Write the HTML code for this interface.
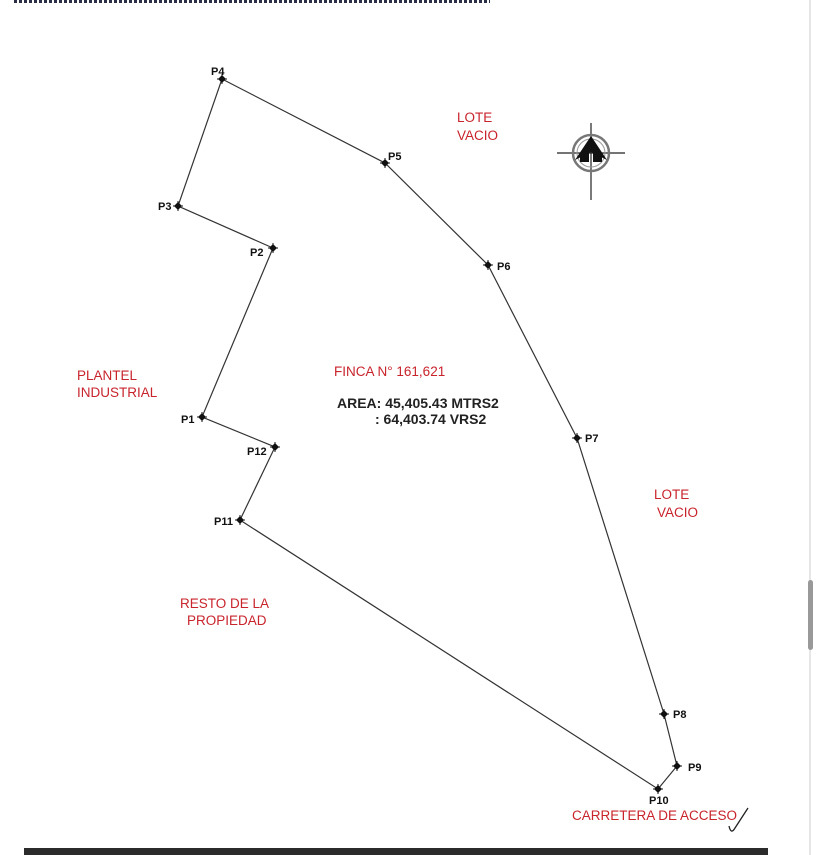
<!DOCTYPE html>
<html><head><meta charset="utf-8"><style>
html,body{margin:0;padding:0;background:#fff;}
svg{display:block;}
text{font-family:"Liberation Sans",sans-serif;}
.r{fill:#c8242c;font-size:13.5px;}
.p{fill:#111;font-size:11px;font-weight:bold;}
</style></head><body>
<svg width="818" height="855" viewBox="0 0 818 855" xmlns="http://www.w3.org/2000/svg">
<defs>
<g id="m"><polygon points="0,-4 4,0 0,4 -4,0" fill="#111"/><line x1="-5" y1="0" x2="5" y2="0" stroke="#111" stroke-width="1"/><line x1="0" y1="-5" x2="0" y2="5" stroke="#111" stroke-width="1"/></g>
</defs>
<rect width="818" height="855" fill="#fff"/>
<line x1="14" y1="1.5" x2="490" y2="1.5" stroke="#2a2f45" stroke-width="3" stroke-dasharray="3,2"/>
<line x1="810" y1="0" x2="810" y2="855" stroke="#ddd" stroke-width="1.5"/>
<rect x="808" y="580" width="5" height="70" rx="2.5" fill="#999"/>
<rect x="24" y="848" width="744" height="7" fill="#2b2b2b"/>
<polygon points="222,79 385,163 488,265 577,438 664,714 677,766 658,789 240,520 275,447 202,417 273,248 178,206" fill="none" stroke="#333" stroke-width="1.2"/>
<use href="#m" x="222" y="79"/><use href="#m" x="385" y="163"/><use href="#m" x="488" y="265"/><use href="#m" x="577" y="438"/><use href="#m" x="664" y="714"/><use href="#m" x="677" y="766"/><use href="#m" x="658" y="789"/><use href="#m" x="240" y="520"/><use href="#m" x="275" y="447"/><use href="#m" x="202" y="417"/><use href="#m" x="273" y="248"/><use href="#m" x="178" y="206"/>
<text class="p" x="211" y="75">P4</text>
<text class="p" x="388" y="160">P5</text>
<text class="p" x="497" y="270">P6</text>
<text class="p" x="585" y="442">P7</text>
<text class="p" x="673" y="718">P8</text>
<text class="p" x="688" y="771">P9</text>
<text class="p" x="649" y="804">P10</text>
<text class="p" x="214" y="525">P11</text>
<text class="p" x="247" y="455">P12</text>
<text class="p" x="181" y="423">P1</text>
<text class="p" x="250" y="256">P2</text>
<text class="p" x="158" y="210">P3</text>
<text class="r" x="457" y="122">LOTE</text>
<text class="r" x="457" y="140">VACIO</text>
<text class="r" x="654" y="499">LOTE</text>
<text class="r" x="657" y="517">VACIO</text>
<text class="r" x="77" y="380">PLANTEL</text>
<text class="r" x="77" y="397">INDUSTRIAL</text>
<text class="r" x="180" y="608">RESTO DE LA</text>
<text class="r" x="187" y="625">PROPIEDAD</text>
<text class="r" x="334" y="376">FINCA N° 161,621</text>
<text x="337" y="408" font-size="14" font-weight="bold" fill="#222">AREA: 45,405.43 MTRS2</text>
<text x="375" y="424" font-size="14" font-weight="bold" fill="#222">: 64,403.74 VRS2</text>
<text class="r" x="572" y="820" font-size="14">CARRETERA DE ACCESO</text>
<path d="M748,808 L735,828 Q731,835 729,826" fill="none" stroke="#222" stroke-width="1.3"/>
<g>
<line x1="557" y1="153" x2="625" y2="153" stroke="#222" stroke-width="1.2"/>
<line x1="591" y1="123" x2="591" y2="200" stroke="#222" stroke-width="1.2"/>
<circle cx="591" cy="153" r="18" fill="none" stroke="#777" stroke-width="2.5"/>
<circle cx="591" cy="153" r="14" fill="none" stroke="#999" stroke-width="1"/>
<polygon points="591,136 575,160 591,152 607,160" fill="#111"/>
<rect x="580" y="153" width="9" height="9" fill="#111"/>
<rect x="593" y="153" width="9" height="9" fill="#111"/>
</g>
</svg>
</body></html>
